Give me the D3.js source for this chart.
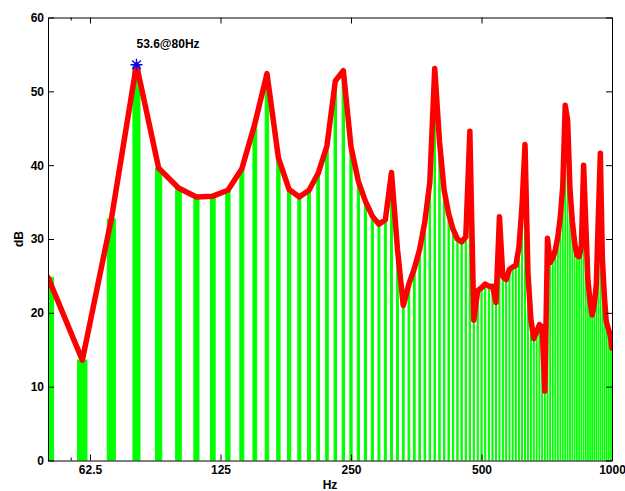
<!DOCTYPE html>
<html>
<head>
<meta charset="utf-8">
<script src="https://cdn.jsdelivr.net/npm/d3@7"></script>
<style>
  html, body { margin: 0; padding: 0; background: #fff; }
  svg { display: block; }
  text { font-family: "Liberation Sans", Arial, Helvetica, sans-serif; font-weight: bold; font-size: 12px; fill: #000; }
</style>
</head>
<body>
<script>
// ---- data ----
const freqs = [50,60,70,80,90,100,110,120,130,140,150,160,170,180,190,200,210,220,230,240,
  250,260,270,280,290,300,310,320,330,340,350,360,370,380,390,400,410,420,430,440,
  450,460,470,480,490,500,510,520,530,540,550,560,570,580,590,600,610,620,630,640,
  650,660,670,680,690,700,710,720,730,740,750,760,770,780,790,800,810,820,830,840,
  850,860,870,880,890,900,910,920,930,940,950,960,970,980,990,1000];
const levels = [24.8,13.6,32.7,53.6,39.6,36.9,35.7,35.8,36.6,39.5,45.6,52.4,41.0,36.7,35.7,36.6,38.9,42.6,51.4,52.8,
  42.5,37.8,35.1,33.1,32.0,32.6,39.0,28.6,21.0,23.9,26.0,28.6,32.3,37.7,53.1,43.2,36.6,33.4,31.3,30.0,
  29.6,30.3,44.6,19.0,23.0,23.4,23.9,23.6,23.6,21.4,33.0,24.9,24.5,25.9,26.2,26.4,28.9,34.4,42.8,25.3,
  19.1,16.5,17.4,18.4,18.1,9.4,30.1,26.8,27.4,28.5,30.3,33.0,37.2,48.1,46.1,36.7,32.4,29.5,27.8,27.6,
  29.0,40.0,32.1,24.4,21.5,19.7,21.1,23.8,33.0,41.6,27.4,22.4,18.8,17.9,17.0,15.2];
const xTickValues = [62.5, 125, 250, 500, 1000];
const xMinorTicks = [56.4];
const yTickValues = [0, 10, 20, 30, 40, 50, 60];
const xDomain = [50, 1000];
const yDomain = [0, 60];
const barWidthHz = 3;
const xLabel = "Hz";
const yLabel = "dB";

// ---- layout ----
const W = 625, H = 491;
const L = 48, R = 612, T = 17.5, B = 460.5;

const svg = d3.select("body").append("svg").attr("width", W).attr("height", H);
const x = d3.scaleLog().domain(xDomain).range([L, R]);
const y = d3.scaleLinear().domain(yDomain).range([B, T]);

svg.append("defs").append("clipPath").attr("id", "plot")
  .append("rect").attr("x", L).attr("y", T).attr("width", R - L).attr("height", B - T);

const data = freqs.map((f, i) => ({ f, v: levels[i] }));

const g = svg.append("g").attr("clip-path", "url(#plot)");

g.selectAll("rect.bar").data(data).join("rect")
  .attr("class", "bar")
  .attr("x", d => x(d.f - barWidthHz / 2))
  .attr("width", d => x(d.f + barWidthHz / 2) - x(d.f - barWidthHz / 2))
  .attr("y", d => y(d.v))
  .attr("height", d => y(0) - y(d.v))
  .attr("fill", "#00ff00")
  .attr("stroke", "#00ff00")
  .attr("stroke-width", 1);

g.append("path").datum(data)
  .attr("d", d3.line().x(d => x(d.f)).y(d => y(d.v)))
  .attr("fill", "none")
  .attr("stroke", "#ff0000")
  .attr("stroke-width", 5.5)
  .attr("stroke-linejoin", "round")
  .attr("stroke-linecap", "round");

// ---- axes ----
const fmt = d => String(d);
const axB = svg.append("g").attr("transform", `translate(0,${B})`)
  .call(d3.axisBottom(x).tickValues(xTickValues).tickFormat(fmt).tickSizeInner(-6).tickSizeOuter(0).tickPadding(5));
const axT = svg.append("g").attr("transform", `translate(0,${T})`)
  .call(d3.axisTop(x).tickValues(xTickValues).tickFormat("").tickSizeInner(-6).tickSizeOuter(0));
const axL = svg.append("g").attr("transform", `translate(${L},0)`)
  .call(d3.axisLeft(y).tickValues(yTickValues).tickFormat(fmt).tickSizeInner(-6).tickSizeOuter(0).tickPadding(4));
const axR = svg.append("g").attr("transform", `translate(${R},0)`)
  .call(d3.axisRight(y).tickValues(yTickValues).tickFormat("").tickSizeInner(-6).tickSizeOuter(0));
svg.append("g").attr("transform", `translate(0,${B})`)
  .call(d3.axisBottom(x).tickValues(xMinorTicks).tickFormat("").tickSizeInner(-3).tickSizeOuter(0))
  .select(".domain").remove();
svg.append("g").attr("transform", `translate(0,${T})`)
  .call(d3.axisTop(x).tickValues(xMinorTicks).tickFormat("").tickSizeInner(-3).tickSizeOuter(0))
  .select(".domain").remove();

svg.selectAll(".tick text").attr("font-family", null).attr("font-size", null).attr("fill", "#000");
svg.selectAll(".domain, .tick line").attr("stroke", "#000").attr("stroke-width", 1);

// axis labels
svg.append("text").attr("x", (L + R) / 2).attr("y", 489).attr("text-anchor", "middle").text(xLabel);
svg.append("text").attr("transform", `translate(23,${(T + B) / 2}) rotate(-90)`).attr("text-anchor", "middle").text(yLabel);

// ---- peak marker ----
const iMax = d3.maxIndex(levels);
const px = x(freqs[iMax]), py = y(levels[iMax]);
const s = 6, sd = 4.3;
svg.append("path")
  .attr("d", `M${px - s},${py}L${px + s},${py}M${px},${py - s}L${px},${py + s}M${px - sd},${py - sd}L${px + sd},${py + sd}M${px - sd},${py + sd}L${px + sd},${py - sd}`)
  .attr("stroke", "#0000ff").attr("stroke-width", 1.4).attr("fill", "none");
svg.append("text").attr("x", px).attr("y", py - 17)
  .text(`${levels[iMax]}@${freqs[iMax]}Hz`);
</script>
</body>
</html>
